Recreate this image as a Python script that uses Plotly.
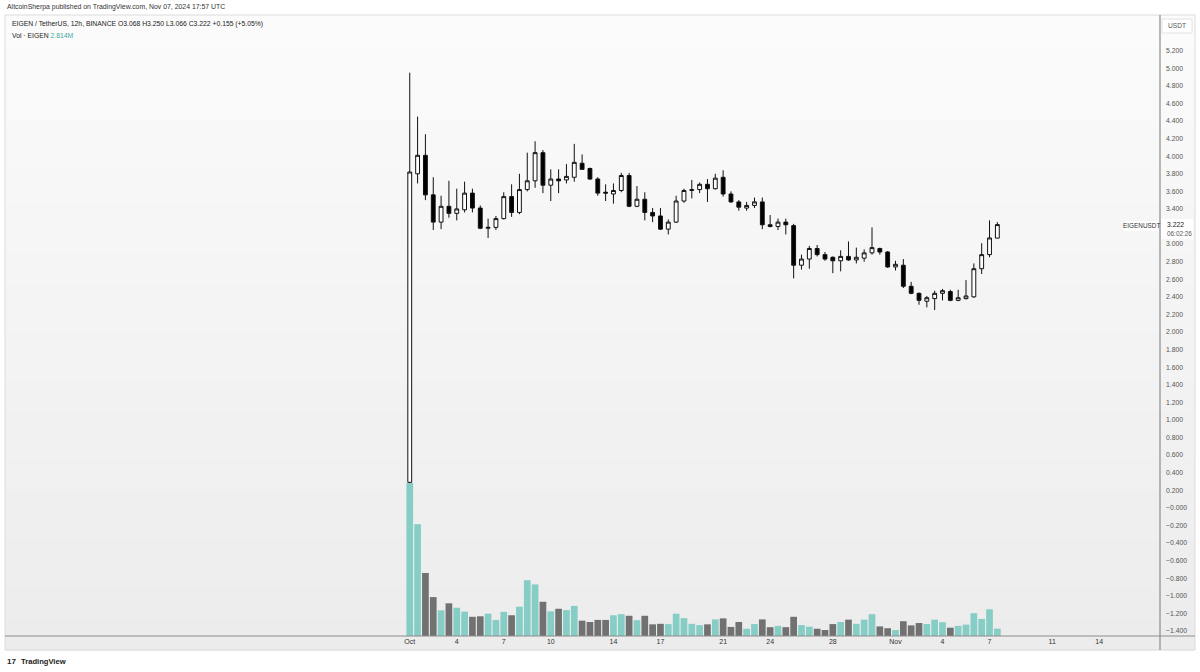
import plotly.graph_objects as go
import pandas as pd

# ---------------- data ----------------
dates = pd.date_range("2024-10-01 00:00", periods=76, freq="12h")

opens = [0.29, 3.80, 4.01, 3.56, 3.25, 3.43, 3.35, 3.39, 3.58, 3.41,
         3.18, 3.19, 3.29, 3.54, 3.36, 3.62, 3.72, 4.04, 3.67, 3.74,
         3.73, 3.76, 3.92, 3.86, 3.74, 3.59, 3.57, 3.61, 3.78, 3.43,
         3.51, 3.36, 3.32, 3.17, 3.25, 3.49, 3.61, 3.62, 3.68, 3.63,
         3.76, 3.57, 3.48, 3.41, 3.44, 3.48, 3.22, 3.20, 3.25, 3.21,
         2.76, 2.83, 2.95, 2.88, 2.85, 2.81, 2.86, 2.82, 2.84, 2.90,
         2.95, 2.91, 2.74, 2.76, 2.52, 2.44, 2.35, 2.38, 2.44, 2.46,
         2.36, 2.38, 2.40, 2.72, 2.88, 3.068]
highs = [4.95, 4.45, 4.25, 3.76, 3.55, 3.72, 3.63, 3.71, 3.63, 3.44,
         3.29, 3.32, 3.59, 3.68, 3.80, 4.04, 4.17, 4.07, 3.85, 3.85,
         3.91, 4.14, 4.02, 3.87, 3.76, 3.68, 3.69, 3.81, 3.81, 3.66,
         3.59, 3.41, 3.41, 3.28, 3.55, 3.63, 3.73, 3.70, 3.74, 3.80,
         3.84, 3.60, 3.50, 3.48, 3.53, 3.53, 3.33, 3.29, 3.29, 3.23,
         2.88, 2.98, 2.99, 2.91, 2.86, 2.93, 3.03, 2.96, 2.94, 3.19,
         2.96, 2.92, 2.81, 2.83, 2.57, 2.45, 2.41, 2.47, 2.49, 2.48,
         2.48, 2.59, 2.78, 3.01, 3.27, 3.250]
lows = [0.28, 3.69, 3.50, 3.16, 3.17, 3.30, 3.27, 3.36, 3.36, 3.17,
        3.07, 3.16, 3.28, 3.31, 3.34, 3.60, 3.64, 3.58, 3.49, 3.58,
        3.69, 3.71, 3.85, 3.73, 3.55, 3.49, 3.46, 3.59, 3.42, 3.42,
        3.27, 3.25, 3.16, 3.11, 3.24, 3.47, 3.52, 3.58, 3.48, 3.62,
        3.54, 3.47, 3.38, 3.38, 3.41, 3.17, 3.19, 3.16, 3.11, 2.61,
        2.71, 2.72, 2.86, 2.81, 2.67, 2.69, 2.81, 2.78, 2.80, 2.88,
        2.88, 2.73, 2.70, 2.50, 2.43, 2.31, 2.28, 2.25, 2.36, 2.35,
        2.35, 2.37, 2.39, 2.66, 2.85, 3.066]
closes = [3.82, 4.01, 3.56, 3.25, 3.43, 3.35, 3.40, 3.58, 3.41, 3.18,
          3.19, 3.29, 3.54, 3.36, 3.62, 3.72, 4.04, 3.67, 3.74, 3.72,
          3.77, 3.93, 3.85, 3.74, 3.58, 3.58, 3.61, 3.78, 3.43, 3.51,
          3.36, 3.32, 3.17, 3.25, 3.49, 3.61, 3.62, 3.68, 3.63, 3.75,
          3.57, 3.48, 3.42, 3.44, 3.48, 3.22, 3.20, 3.25, 3.22, 2.76,
          2.83, 2.95, 2.88, 2.83, 2.81, 2.86, 2.82, 2.85, 2.90, 2.96,
          2.91, 2.74, 2.77, 2.52, 2.44, 2.36, 2.39, 2.44, 2.47, 2.36,
          2.39, 2.41, 2.72, 2.88, 3.07, 3.222]
volumes_m = [59.0, 43.1, 24.3, 15.0, 9.9, 12.6, 10.9, 9.4, 7.4, 7.6,
             8.6, 6.2, 9.3, 8.0, 11.3, 21.5, 19.9, 13.2, 9.5, 10.5,
             10.0, 11.6, 5.9, 5.4, 6.2, 6.2, 8.0, 8.4, 7.8, 6.1,
             7.8, 4.5, 4.7, 4.6, 8.6, 6.9, 4.7, 4.2, 4.5, 6.4,
             6.8, 3.5, 5.4, 2.8, 4.6, 6.4, 3.4, 3.9, 3.4, 7.4,
             4.2, 3.6, 2.8, 2.3, 4.6, 5.4, 6.3, 4.7, 6.3, 8.4,
             3.7, 3.0, 2.3, 5.7, 4.1, 5.0, 4.6, 6.3, 5.3, 3.2,
             3.9, 4.4, 8.8, 6.6, 10.3, 2.814]

tick_dates = ["2024-10-01", "2024-10-04", "2024-10-07", "2024-10-10", "2024-10-14",
              "2024-10-17", "2024-10-21", "2024-10-24", "2024-10-28", "2024-11-01",
              "2024-11-04", "2024-11-07", "2024-11-11", "2024-11-14"]
tick_labels = ["Oct", "4", "7", "10", "14", "17", "21", "24", "28", "Nov", "4", "7", "11", "14"]

price_tick_vals = [round(-1.4 + 0.2 * k, 1) for k in range(34)]
price_tick_text = [("−" + f"{abs(v):.3f}") if v <= 0 else f"{v:.3f}" for v in price_tick_vals]

# ---------------- styling constants ----------------
W, H = 1200, 672
L, R, T, B = 5, 40, 15, 36
PW, PH = W - L - R, H - T - B
FONT = "Liberation Sans"
TEAL = "#86cdc6"
GREY = "#717171"


def px_x(px):
    return (px - L) / PW


def px_y(py):
    return (H - B - py) / PH


vol_colors = [TEAL if c >= o else GREY for o, c in zip(opens, closes)]

fig = go.Figure()

fig.add_trace(go.Candlestick(
    x=dates, open=opens, high=highs, low=lows, close=closes,
    increasing=dict(line=dict(color="#111111", width=1), fillcolor="#ffffff"),
    decreasing=dict(line=dict(color="#111111", width=1), fillcolor="#000000"),
    whiskerwidth=0, yaxis="y", xaxis="x", showlegend=False, hoverinfo="skip",
))

fig.add_trace(go.Bar(
    x=dates, y=volumes_m, marker=dict(color=vol_colors, line=dict(width=0)),
    width=37e6, yaxis="y2", xaxis="x", showlegend=False, hoverinfo="skip",
))

shapes = []
# background gradient of the chart panel
n_bands = 40
top_px, bot_px = 15, 650
c0, c1 = (251, 251, 251), (236, 236, 236)
for k in range(n_bands):
    t = k / (n_bands - 1)
    col = tuple(round(a + (b - a) * t) for a, b in zip(c0, c1))
    y_a = top_px + (bot_px - top_px) * k / n_bands
    y_b = top_px + (bot_px - top_px) * (k + 1) / n_bands + 0.6
    shapes.append(dict(type="rect", xref="paper", yref="paper", layer="below",
                       x0=px_x(5), x1=px_x(1195), y0=px_y(y_b), y1=px_y(y_a),
                       fillcolor="rgb(%d,%d,%d)" % col, line=dict(width=0)))
# panel frame
shapes.append(dict(type="rect", xref="paper", yref="paper", layer="above",
                   x0=px_x(5), x1=px_x(1195), y0=px_y(650), y1=px_y(15),
                   line=dict(color="#dcdcdc", width=1)))
# axis lines
shapes.append(dict(type="line", xref="paper", yref="paper", layer="above",
                   x0=px_x(1160), x1=px_x(1160), y0=px_y(650), y1=px_y(15),
                   line=dict(color="#8c8c8c", width=1.2)))
shapes.append(dict(type="line", xref="paper", yref="paper", layer="above",
                   x0=px_x(5), x1=px_x(1195), y0=px_y(636), y1=px_y(636),
                   line=dict(color="#8c8c8c", width=1.2)))
# USDT box
shapes.append(dict(type="rect", xref="paper", yref="paper", layer="above",
                   x0=px_x(1162), x1=px_x(1192), y0=px_y(33), y1=px_y(19),
                   fillcolor="#ffffff", line=dict(color="#e2e2e2", width=1)))
# last price boxes
shapes.append(dict(type="rect", xref="paper", yref="paper", layer="above",
                   x0=px_x(1161), x1=px_x(1193), y0=px_y(239), y1=px_y(219),
                   fillcolor="#ffffff", line=dict(width=0)))
shapes.append(dict(type="rect", xref="paper", yref="paper", layer="above",
                   x0=px_x(1124), x1=px_x(1158), y0=px_y(231), y1=px_y(221),
                   fillcolor="#ffffff", line=dict(width=0)))

annotations = []


def note(text, x, y, size=7.0, color="#333333", xanchor="left", yanchor="middle"):
    annotations.append(dict(text=text, xref="paper", yref="paper", x=px_x(x), y=px_y(y),
                            xanchor=xanchor, yanchor=yanchor, showarrow=False,
                            font=dict(family=FONT, size=size, color=color)))


note("AltcoinSherpa published on TradingView.com, Nov 07, 2024 17:57 UTC", 5, 7.5, size=6.9)
note("EIGEN / TetherUS, 12h, BINANCE O3.068 H3.250 L3.066 C3.222 +0.155 (+5.05%)", 10, 24, size=6.8, color="#222222")
note("Vol · EIGEN <span style='color:#3fa99f'>2.814M</span>", 10, 35, size=6.8, color="#222222")
note("USDT", 1177, 26, size=6.6, color="#555555", xanchor="center")
note("EIGENUSDT", 1141, 226, size=6.4, color="#333333", xanchor="center")
note("3.222", 1165, 224.5, size=6.8, color="#222222")
note("06:02:26", 1165, 233.5, size=6.4, color="#555555")
note("<b>TradingView</b>", 19, 661, size=7.6, color="#222222")
note("<b>17</b>", 5, 661, size=8, color="#222222")

fig.update_layout(
    width=W, height=H, autosize=False,
    margin=dict(l=L, r=R, t=T, b=B, pad=0),
    paper_bgcolor="#ffffff", plot_bgcolor="rgba(0,0,0,0)",
    font=dict(family=FONT, size=7, color="#444444"),
    showlegend=False,
    shapes=shapes, annotations=annotations,
    xaxis=dict(
        type="date", range=["2024-09-05 04:05", "2024-11-17 21:07"],
        tickvals=tick_dates, ticktext=tick_labels, tickangle=0,
        showgrid=False, zeroline=False, showline=False, ticks="",
        tickfont=dict(family=FONT, size=7, color="#333333"),
        rangeslider=dict(visible=False), fixedrange=True,
    ),
    yaxis=dict(
        side="right", range=[-1.458, 5.606],
        tickvals=price_tick_vals, ticktext=price_tick_text,
        showgrid=False, zeroline=False, showline=False, ticks="",
        ticklabelstandoff=5,
        tickfont=dict(family=FONT, size=6.8, color="#555555"),
    ),
    yaxis2=dict(
        overlaying="y", range=[0, 239.4], visible=False, showgrid=False,
    ),
)

fig.write_html("out.html", config={"displayModeBar": False},
               post_script="document.body.style.margin='0';document.body.style.overflow='hidden';")
